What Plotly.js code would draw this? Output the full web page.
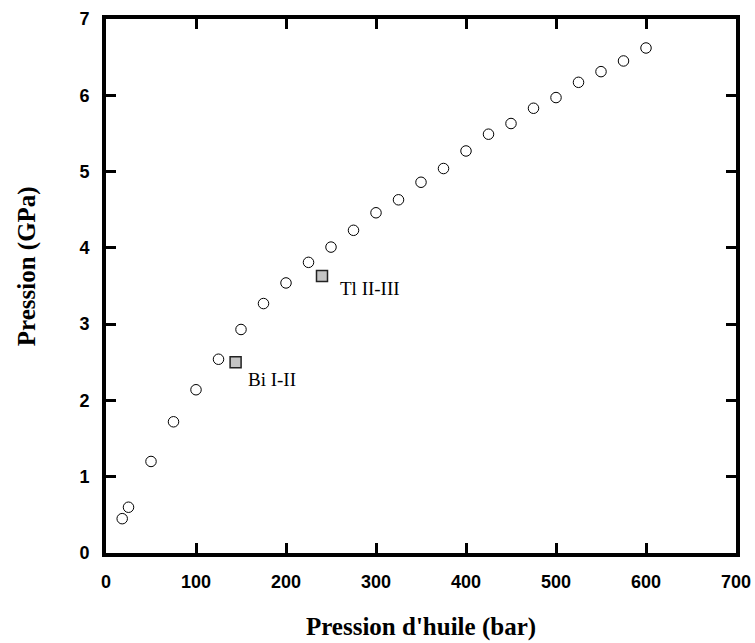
<!DOCTYPE html>
<html>
<head>
<meta charset="utf-8">
<script src="https://cdn.plot.ly/plotly-3.0.1.min.js"></script>
<style>html,body{margin:0;padding:0;background:#fff;}#chart{width:755px;height:643px;}</style>
</head>
<body>
<div id="chart"></div>
<script>
// Calibration data: oil pressure (bar) vs. sample pressure (GPa)
const oilPressure = [18, 25, 50, 75, 100, 125, 150, 175, 200, 225, 250, 275, 300, 325, 350, 375, 400, 425, 450, 475, 500, 525, 550, 575, 600];
const samplePressure = [0.45, 0.60, 1.20, 1.72, 2.14, 2.54, 2.93, 3.27, 3.54, 3.81, 4.01, 4.23, 4.46, 4.63, 4.86, 5.04, 5.27, 5.49, 5.63, 5.83, 5.97, 6.17, 6.31, 6.45, 6.62];
// Fixed points (phase transitions)
const fixedNames = ["Bi I-II", "Tl II-III"];
const fixedOil = [144, 240];
const fixedPressure = [2.50, 3.63];
const labelX = [156, 258];
const labelY = [2.27, 3.47];
const xTicks = [0, 100, 200, 300, 400, 500, 600, 700];
const yTicks = [0, 1, 2, 3, 4, 5, 6, 7];
const xTitle = "Pression d'huile (bar)";
const yTitle = "Pression (GPa)";

const traces = [
  {
    x: oilPressure, y: samplePressure, type: 'scatter', mode: 'markers',
    marker: {symbol: 'circle', size: 10.5, color: '#ffffff', line: {color: '#000000', width: 1}},
    hoverinfo: 'x+y', showlegend: false
  },
  {
    x: fixedOil, y: fixedPressure, type: 'scatter', mode: 'markers',
    marker: {symbol: 'square', size: 11, color: '#c4c4c4', line: {color: '#222222', width: 1.5}},
    hoverinfo: 'x+y', showlegend: false
  }
];

const serif = 'Liberation Serif, Times New Roman, serif';
const annotations = fixedNames.map((n, i) => ({
  x: labelX[i], y: labelY[i], xref: 'x', yref: 'y', text: n, showarrow: false,
  xanchor: 'left', yanchor: 'middle',
  font: {family: serif, size: 19, color: '#000'}
}));
annotations.push({
  xref: 'paper', yref: 'paper', x: 0, y: 0.537, xshift: -79,
  xanchor: 'center', yanchor: 'middle', textangle: -90, showarrow: false,
  text: '<b>' + yTitle + '</b>',
  font: {family: serif, size: 25, color: '#000'}
});

const axisCommon = {
  showline: true, linewidth: 4, linecolor: '#000', mirror: 'ticks',
  ticks: 'inside', ticklen: 10, tickwidth: 3, tickcolor: '#000',
  showgrid: false, zeroline: false,
  tickfont: {family: 'Liberation Sans, Arial, sans-serif', size: 18, color: '#000'}
};

const layout = {
  width: 755, height: 643,
  margin: {l: 106, r: 19, t: 19, b: 90},
  paper_bgcolor: '#fff', plot_bgcolor: '#fff',
  xaxis: Object.assign({}, axisCommon, {
    range: [0, 700], tickmode: 'array', tickvals: xTicks, ticktext: xTicks.map(v => '<b>' + v + '</b>'),
    ticklabelstandoff: 9,
    title: {text: '<b>' + xTitle + '</b>', standoff: 28,
      font: {family: serif, size: 25, color: '#000'}}
  }),
  yaxis: Object.assign({}, axisCommon, {
    range: [0, 7], tickmode: 'array', tickvals: yTicks, ticktext: yTicks.map(v => '<b>' + v + '</b>'),
    ticklabelstandoff: 9
  }),
  annotations: annotations
};

Plotly.newPlot('chart', traces, layout, {displayModeBar: false, staticPlot: true});
</script>
</body>
</html>
